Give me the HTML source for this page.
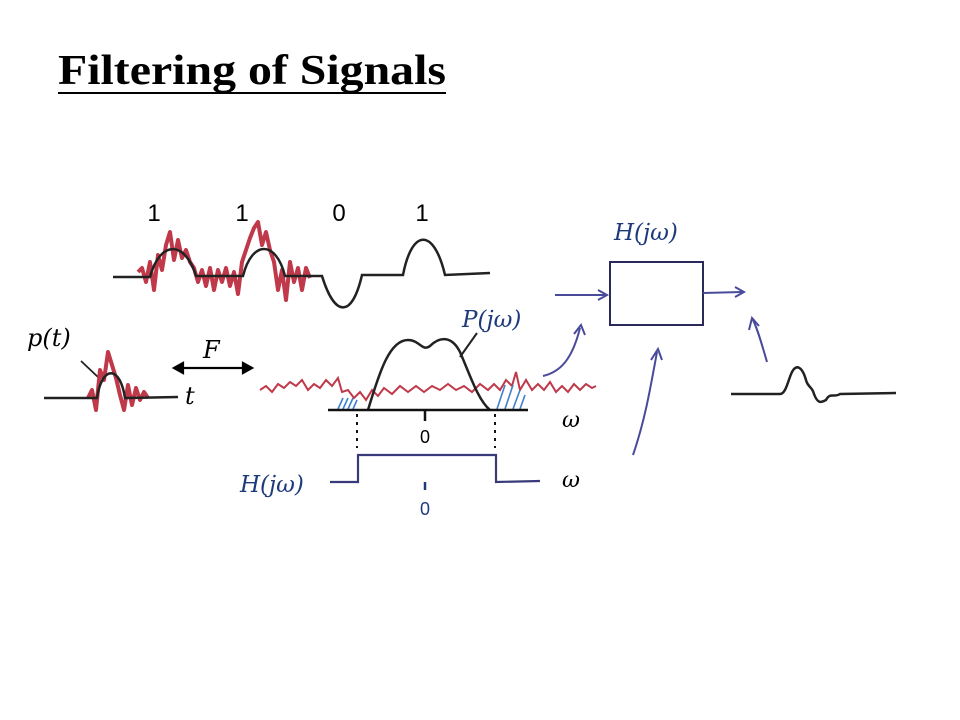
<!DOCTYPE html>
<html><head><meta charset="utf-8"><style>
body{margin:0;background:#fff}
svg{display:block}
.m{font-family:"DejaVu Serif","Liberation Serif",serif;font-style:italic}
</style></head><body>
<svg width="960" height="720" viewBox="0 0 960 720" xmlns="http://www.w3.org/2000/svg">
<text x="58" y="84" font-family="Liberation Serif,serif" font-weight="bold" font-size="42" textLength="388" lengthAdjust="spacingAndGlyphs">Filtering of Signals</text>
<line x1="58" y1="93" x2="446" y2="93" stroke="#000" stroke-width="2"/>

<g font-family="Liberation Sans,sans-serif" font-size="24" text-anchor="middle">
<text x="154" y="221">1</text><text x="242" y="221">1</text><text x="339" y="221">0</text><text x="422" y="221">1</text></g>

<polyline fill="none" stroke="#c0394a" stroke-width="4" stroke-linejoin="round" points="138,272 142,268 146,282 150,262 154,290 158,255 162,270 166,245 170,232 174,260 178,240 182,258 186,250 190,262 194,268 198,282 202,270 206,286 210,268 214,290 218,270 222,282 226,268 230,286 234,272 238,294 242,262 246,250 250,238 254,228 258,222 262,245 266,232 270,250 274,262 278,290 282,270 286,300 290,262 294,282 298,268 302,290 306,268 310,278"/>
<path fill="none" stroke="#222" stroke-width="2.5" d="M113,277 L150,277 C160,240 185,240 196,276 L243,276 C252,240 276,240 285,276 L322,276 C335,318 352,318 362,275 L403,275 C412,228 434,228 445,275 L490,273"/>

<text class="m" x="27" y="346" font-size="24">p(t)</text>
<line x1="81" y1="361" x2="99" y2="378" stroke="#222" stroke-width="1.8"/>
<polyline fill="none" stroke="#c0394a" stroke-width="4" stroke-linejoin="round" points="88,398 92,390 96,410 100,370 104,380 108,352 112,365 116,378 120,395 124,410 128,385 132,405 136,388 140,400 144,392 148,398"/>
<path fill="none" stroke="#222" stroke-width="2.5" d="M44,398 L97,398 C102,365 120,365 125,398 L178,397"/>
<text class="m" x="185" y="404" font-size="24">t</text>
<g stroke="#000" stroke-width="2.2">
<line x1="180" y1="368" x2="246" y2="368"/><path d="M174,368 l9,-5 v10z M252,368 l-9,-5 v10z" fill="#000"/></g>
<text class="m" x="203" y="358" font-size="24">F</text>

<polyline fill="none" stroke="#c0394a" stroke-width="2" points="260,390 266,386 272,392 278,384 284,388 290,382 296,386 302,380 308,390 314,384 320,388 326,380 332,386 338,378 342,392 348,390 354,398 360,392 366,400 372,390 378,396 384,388 392,394 400,386 408,392 416,386 424,392 432,386 440,390 448,384 456,390 464,386 472,392 480,384 488,390 494,384 500,390 506,380 512,386 516,372 520,390 526,380 532,390 538,384 544,390 550,382 556,392 562,386 568,392 574,384 580,390 586,384 592,388 596,386"/>
<g stroke="#3f7fd0" stroke-width="1.6">
<line x1="338" y1="409" x2="343" y2="398"/><line x1="343" y1="409" x2="348" y2="398"/><line x1="348" y1="409" x2="353" y2="398"/><line x1="353" y1="409" x2="357" y2="400"/>
<line x1="497" y1="409" x2="505" y2="385"/><line x1="505" y1="409" x2="513" y2="385"/><line x1="513" y1="409" x2="520" y2="390"/><line x1="520" y1="409" x2="525" y2="395"/></g>
<path fill="none" stroke="#222" stroke-width="2.5" d="M368,410 C380,370 390,340 408,340 C420,340 422,352 430,346 C440,336 452,336 460,352 C470,375 478,400 490,410"/>
<line x1="328" y1="410" x2="528" y2="410" stroke="#111" stroke-width="2.5"/>
<line x1="425" y1="410" x2="425" y2="421" stroke="#111" stroke-width="2.5"/>
<text x="425" y="443" font-family="Liberation Sans,sans-serif" font-size="18" text-anchor="middle">0</text>
<text class="m" x="562" y="427" font-size="22">ω</text>
<text class="m" x="462" y="327" font-size="23" fill="#1e3a7a">P(jω)</text>
<line x1="477" y1="333" x2="460" y2="357" stroke="#222" stroke-width="2"/>
<g stroke="#111" stroke-width="2" stroke-dasharray="3,5">
<line x1="357" y1="414" x2="357" y2="448"/><line x1="495" y1="414" x2="495" y2="448"/></g>

<path fill="none" stroke="#3a3a7a" stroke-width="2.2" d="M330,482 L358,482 L358,455 L496,455 L496,482 L540,481"/>
<line x1="425" y1="482" x2="425" y2="490" stroke="#1e3a7a" stroke-width="2.5"/>
<text x="425" y="515" font-family="Liberation Sans,sans-serif" font-size="18" fill="#1e3a7a" text-anchor="middle">0</text>
<text class="m" x="240" y="492" font-size="23" fill="#1e3a7a">H(jω)</text>
<text class="m" x="562" y="487" font-size="22">ω</text>

<text class="m" x="614" y="240" font-size="23" fill="#1e3a7a">H(jω)</text>
<rect x="610" y="262" width="93" height="63" fill="none" stroke="#2a2a5a" stroke-width="2"/>
<g stroke="#4a4a9a" stroke-width="2" fill="none">
<line x1="555" y1="295" x2="605" y2="295"/><path d="M598,290 L607,295 L598,300"/>
<line x1="703" y1="293" x2="742" y2="292"/><path d="M735,287 L744,292 L735,297"/>
<path d="M543,376 C560,372 572,360 580,328"/><path d="M574,334 L581,325 L585,335"/>
<path d="M633,455 C645,420 650,390 657,352"/><path d="M651,360 L658,349 L662,360"/>
<path d="M767,362 C762,345 758,330 753,320"/><path d="M749,330 L752,318 L759,326"/></g>
<path fill="none" stroke="#222" stroke-width="2.5" d="M731,394 L780,394 C786,394 788,380 792,372 C796,364 802,366 806,380 C808,388 812,386 814,394 C818,405 822,402 826,400 C830,392 834,398 840,394 L896,393"/>
</svg>
</body></html>
